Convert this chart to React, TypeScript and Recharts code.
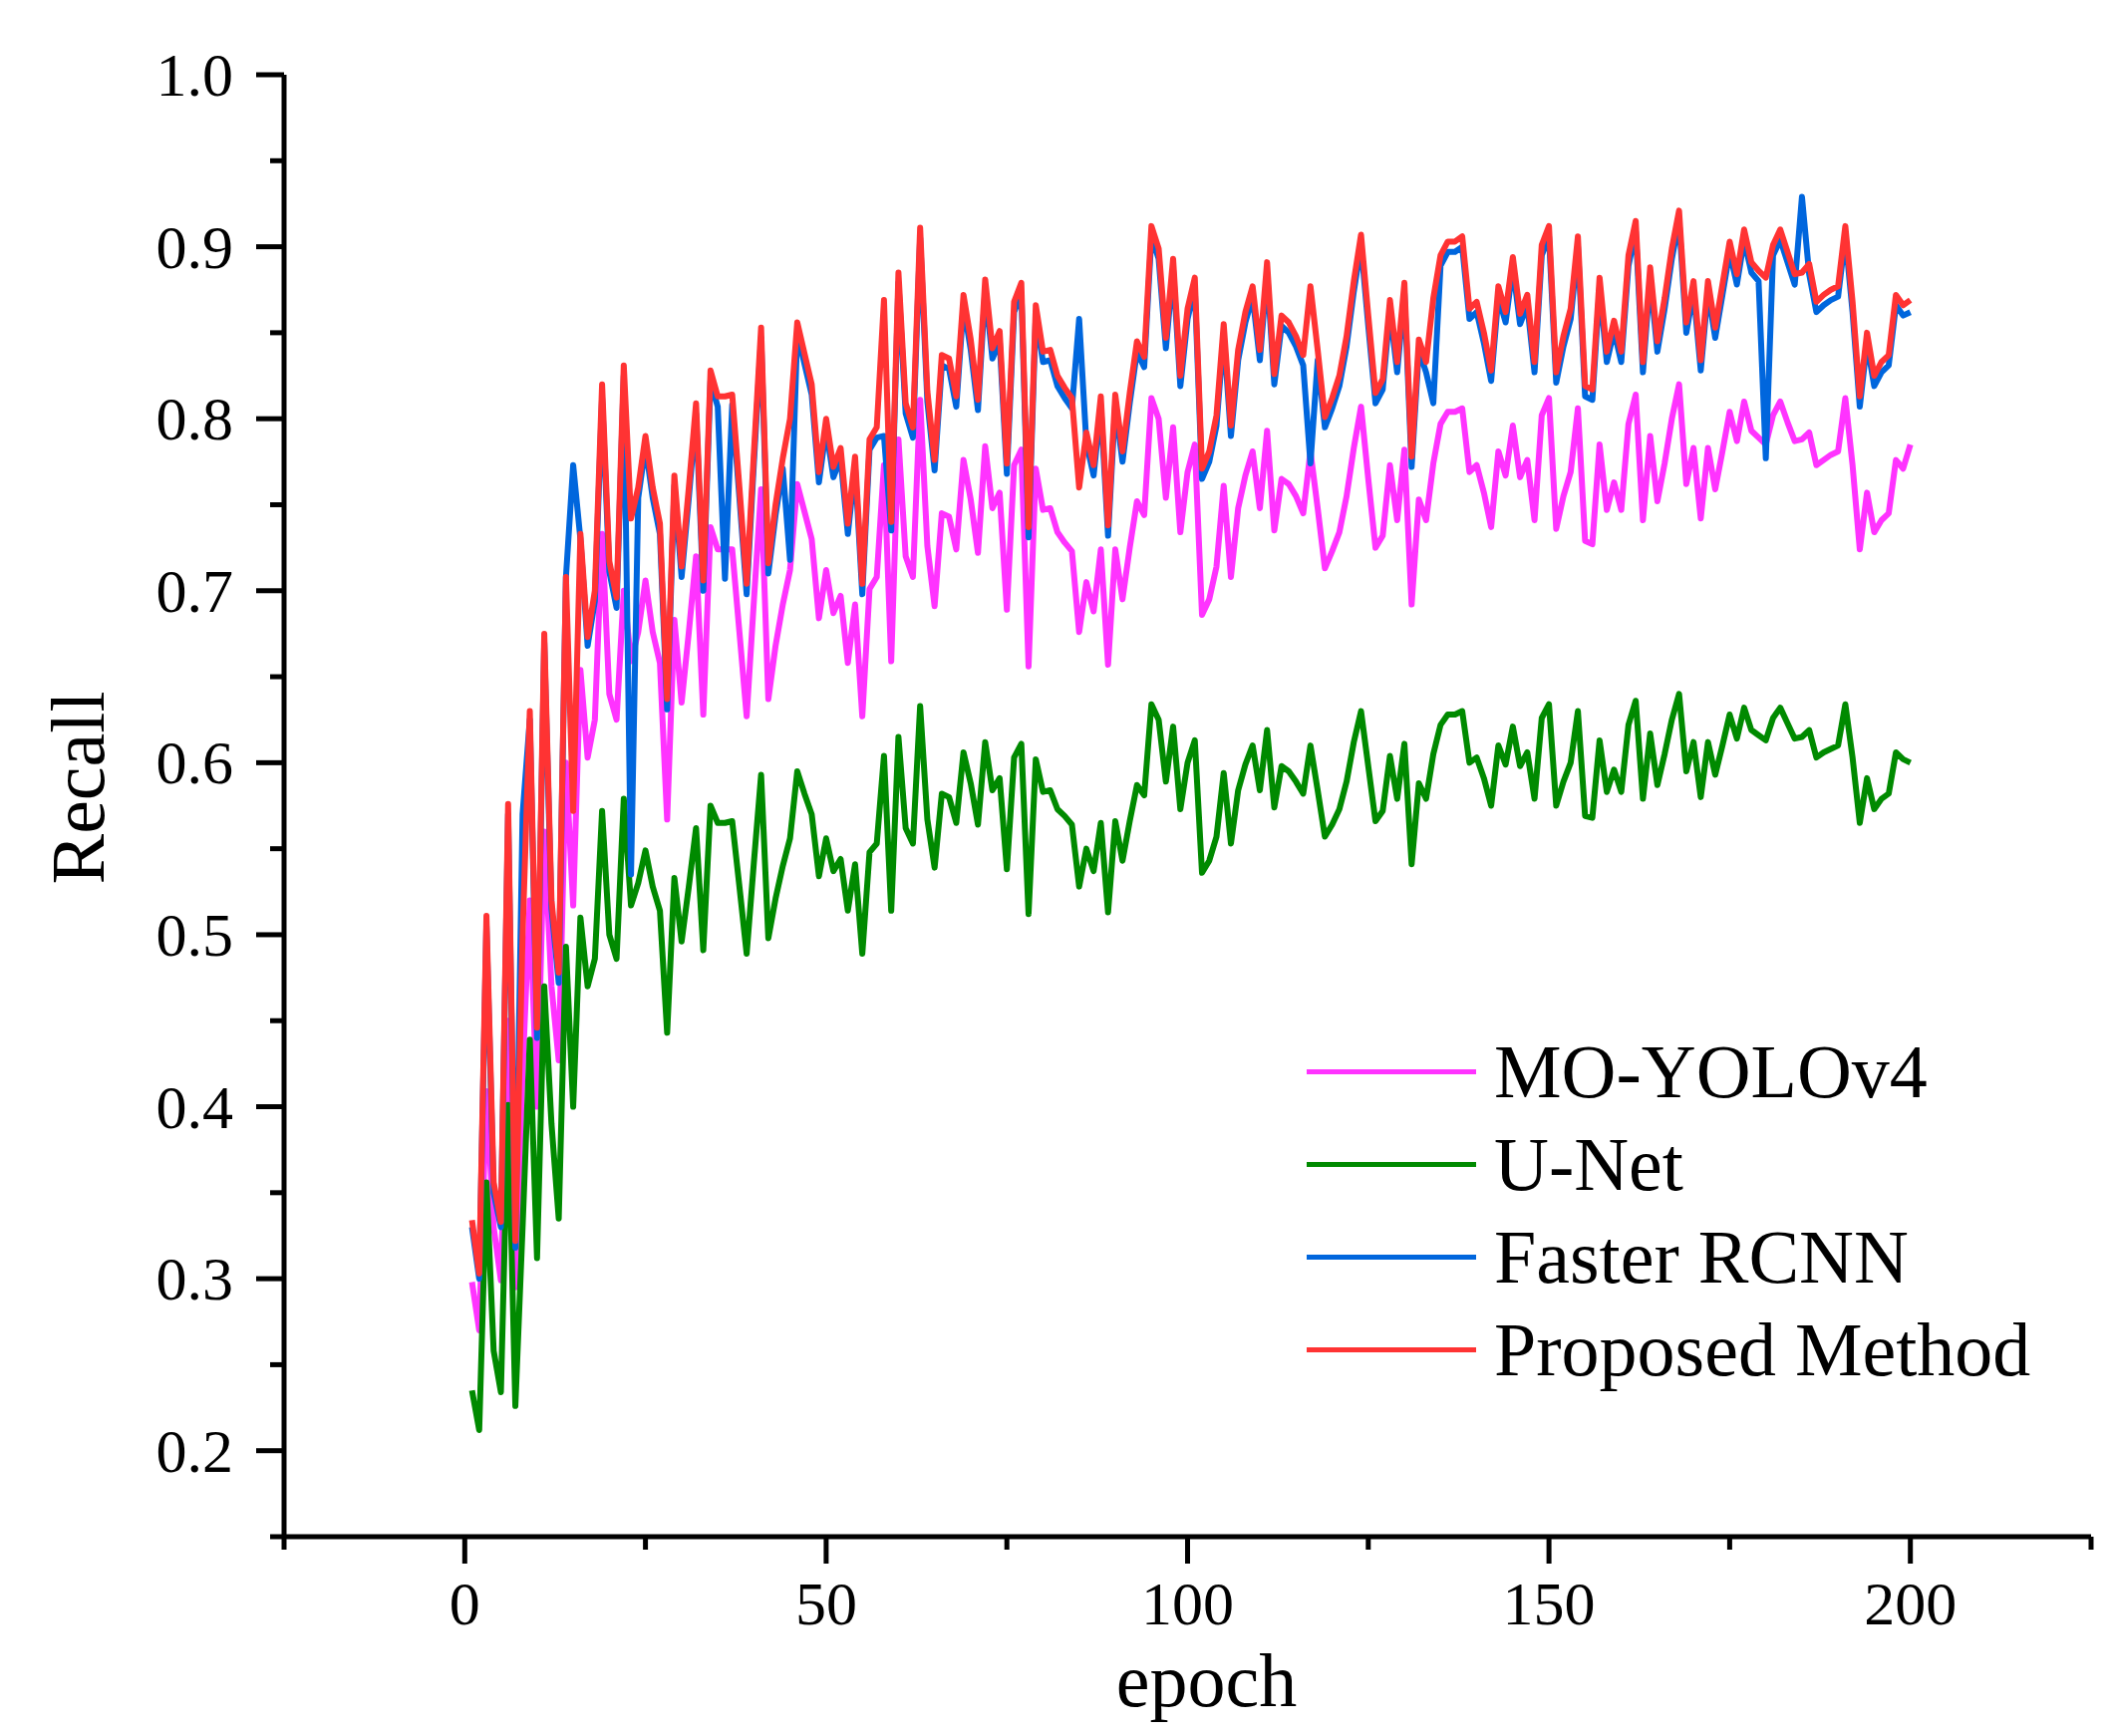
import React from 'react';
import { LineChart, Line, XAxis, YAxis, Label } from 'recharts';

const EPOCHS = Array.from({ length: 200 }, (_, i) => i + 1);

const PROPOSED = [
  0.334, 0.303, 0.511, 0.356, 0.333, 0.576, 0.322, 0.500, 0.630, 0.446,
  0.675, 0.520, 0.478, 0.708, 0.572, 0.733, 0.673, 0.700, 0.820, 0.717,
  0.696, 0.831, 0.742, 0.760, 0.790, 0.760, 0.739, 0.637, 0.767, 0.714,
  0.760, 0.809, 0.706, 0.828, 0.813, 0.813, 0.814, 0.760, 0.704, 0.780,
  0.853, 0.716, 0.750, 0.777, 0.800, 0.856, 0.838, 0.820, 0.769, 0.800,
  0.772, 0.783, 0.739, 0.778, 0.704, 0.788, 0.795, 0.869, 0.740, 0.885,
  0.809, 0.795, 0.911, 0.816, 0.776, 0.837, 0.835, 0.813, 0.872, 0.846,
  0.811, 0.881, 0.841, 0.851, 0.774, 0.868, 0.879, 0.737, 0.866, 0.839,
  0.840, 0.825, 0.818, 0.812, 0.760, 0.792, 0.773, 0.813, 0.738, 0.814,
  0.781, 0.815, 0.845, 0.836, 0.912, 0.899, 0.847, 0.893, 0.825, 0.864,
  0.882, 0.771, 0.781, 0.802, 0.855, 0.796, 0.840, 0.862, 0.877, 0.840,
  0.891, 0.826, 0.860, 0.856, 0.848, 0.837, 0.877, 0.840, 0.801, 0.812,
  0.825, 0.848, 0.880, 0.907, 0.860, 0.815, 0.823, 0.869, 0.833, 0.879,
  0.778, 0.846, 0.833, 0.870, 0.895, 0.903, 0.903, 0.906, 0.864, 0.868,
  0.850, 0.828, 0.877, 0.862, 0.894, 0.861, 0.872, 0.833, 0.901, 0.912,
  0.827, 0.848, 0.864, 0.906, 0.819, 0.817, 0.882, 0.839, 0.857, 0.839,
  0.895, 0.915, 0.833, 0.888, 0.845, 0.870, 0.899, 0.921, 0.856, 0.880,
  0.834, 0.880, 0.853, 0.878, 0.903, 0.884, 0.910, 0.891, 0.886, 0.882,
  0.901, 0.910, 0.897, 0.884, 0.885, 0.890, 0.868, 0.872, 0.875, 0.877,
  0.912, 0.868, 0.813, 0.850, 0.825, 0.833, 0.837, 0.872, 0.866, 0.869,
];

const FASTER_RCNN = [
  0.330, 0.300, 0.505, 0.350, 0.330, 0.570, 0.318, 0.570, 0.625, 0.440,
  0.670, 0.515, 0.472, 0.708, 0.773, 0.730, 0.668, 0.694, 0.812, 0.711,
  0.690, 0.825, 0.535, 0.754, 0.784, 0.754, 0.733, 0.631, 0.761, 0.708,
  0.754, 0.803, 0.700, 0.822, 0.807, 0.707, 0.808, 0.754, 0.698, 0.774,
  0.847, 0.710, 0.744, 0.771, 0.718, 0.850, 0.832, 0.814, 0.763, 0.794,
  0.766, 0.777, 0.733, 0.772, 0.698, 0.782, 0.789, 0.790, 0.735, 0.879,
  0.803, 0.789, 0.905, 0.810, 0.770, 0.831, 0.829, 0.807, 0.866, 0.840,
  0.805, 0.875, 0.835, 0.845, 0.768, 0.862, 0.873, 0.731, 0.860, 0.833,
  0.834, 0.819, 0.812, 0.806, 0.858, 0.786, 0.767, 0.807, 0.732, 0.808,
  0.775, 0.809, 0.839, 0.830, 0.906, 0.893, 0.841, 0.887, 0.819, 0.858,
  0.876, 0.765, 0.775, 0.796, 0.849, 0.790, 0.834, 0.856, 0.871, 0.834,
  0.885, 0.820, 0.854, 0.850, 0.842, 0.831, 0.774, 0.834, 0.795, 0.806,
  0.819, 0.842, 0.874, 0.901, 0.854, 0.809, 0.817, 0.863, 0.827, 0.873,
  0.772, 0.840, 0.827, 0.809, 0.889, 0.897, 0.897, 0.900, 0.858, 0.862,
  0.844, 0.822, 0.871, 0.856, 0.888, 0.855, 0.866, 0.827, 0.895, 0.906,
  0.821, 0.842, 0.858, 0.900, 0.813, 0.811, 0.876, 0.833, 0.851, 0.833,
  0.889, 0.909, 0.827, 0.882, 0.839, 0.864, 0.893, 0.915, 0.850, 0.874,
  0.828, 0.874, 0.847, 0.872, 0.897, 0.878, 0.904, 0.885, 0.880, 0.777,
  0.895, 0.904, 0.891, 0.878, 0.929, 0.884, 0.862, 0.866, 0.869, 0.871,
  0.906, 0.862, 0.807, 0.844, 0.819, 0.827, 0.831, 0.866, 0.860, 0.862,
];

const MO_YOLOV4 = [
  0.298, 0.270, 0.409, 0.330, 0.299, 0.450, 0.295, 0.420, 0.520, 0.400,
  0.560, 0.470, 0.427, 0.600, 0.517, 0.654, 0.603, 0.625, 0.733, 0.640,
  0.625, 0.700, 0.659, 0.676, 0.706, 0.676, 0.658, 0.567, 0.683, 0.635,
  0.676, 0.720, 0.628, 0.737, 0.724, 0.724, 0.724, 0.676, 0.627, 0.694,
  0.759, 0.637, 0.668, 0.692, 0.712, 0.762, 0.746, 0.730, 0.684, 0.712,
  0.687, 0.697, 0.658, 0.692, 0.627, 0.701, 0.708, 0.773, 0.659, 0.788,
  0.720, 0.708, 0.811, 0.726, 0.691, 0.745, 0.743, 0.724, 0.776, 0.753,
  0.722, 0.784, 0.748, 0.757, 0.689, 0.773, 0.782, 0.656, 0.771, 0.747,
  0.748, 0.734, 0.728, 0.723, 0.676, 0.705, 0.688, 0.724, 0.657, 0.724,
  0.695, 0.725, 0.752, 0.744, 0.812, 0.800, 0.754, 0.795, 0.734, 0.769,
  0.785, 0.686, 0.695, 0.714, 0.761, 0.708, 0.748, 0.767, 0.781, 0.748,
  0.793, 0.735, 0.765, 0.762, 0.755, 0.745, 0.781, 0.748, 0.713, 0.723,
  0.734, 0.755, 0.783, 0.807, 0.765, 0.725, 0.732, 0.773, 0.741, 0.782,
  0.692, 0.753, 0.741, 0.774, 0.797, 0.804, 0.804, 0.806, 0.769, 0.773,
  0.757, 0.737, 0.781, 0.767, 0.796, 0.766, 0.776, 0.741, 0.802, 0.812,
  0.736, 0.755, 0.769, 0.806, 0.729, 0.727, 0.785, 0.747, 0.763, 0.747,
  0.797, 0.814, 0.741, 0.790, 0.752, 0.774, 0.800, 0.820, 0.762, 0.783,
  0.742, 0.783, 0.759, 0.781, 0.804, 0.787, 0.810, 0.793, 0.789, 0.785,
  0.802, 0.810, 0.798, 0.787, 0.788, 0.792, 0.773, 0.776, 0.779, 0.781,
  0.812, 0.773, 0.724, 0.757, 0.734, 0.741, 0.745, 0.776, 0.771, 0.785,
];

const UNET = [
  0.235, 0.212, 0.356, 0.258, 0.234, 0.401, 0.226, 0.330, 0.439, 0.312,
  0.470, 0.390, 0.335, 0.493, 0.400, 0.510, 0.470, 0.486, 0.572, 0.500,
  0.486, 0.579, 0.517, 0.530, 0.549, 0.528, 0.514, 0.443, 0.533, 0.496,
  0.528, 0.562, 0.491, 0.575, 0.565, 0.565, 0.566, 0.528, 0.489, 0.542,
  0.593, 0.498, 0.521, 0.540, 0.556, 0.595, 0.582, 0.570, 0.534, 0.556,
  0.537, 0.544, 0.514, 0.541, 0.489, 0.548, 0.553, 0.604, 0.514, 0.615,
  0.562, 0.553, 0.633, 0.567, 0.539, 0.582, 0.580, 0.565, 0.606, 0.588,
  0.564, 0.612, 0.584, 0.591, 0.538, 0.603, 0.611, 0.512, 0.602, 0.583,
  0.584, 0.573, 0.569, 0.564, 0.528, 0.550, 0.537, 0.565, 0.513, 0.566,
  0.543, 0.566, 0.587, 0.581, 0.634, 0.625, 0.589, 0.621, 0.573, 0.600,
  0.613, 0.536, 0.543, 0.557, 0.594, 0.553, 0.584, 0.599, 0.610, 0.584,
  0.619, 0.574, 0.598, 0.595, 0.589, 0.582, 0.610, 0.584, 0.557, 0.564,
  0.573, 0.589, 0.612, 0.630, 0.598, 0.566, 0.572, 0.604, 0.579, 0.611,
  0.541, 0.588, 0.579, 0.605, 0.622, 0.628, 0.628, 0.630, 0.600, 0.603,
  0.591, 0.575, 0.610, 0.599, 0.621, 0.598, 0.606, 0.579, 0.626, 0.634,
  0.575, 0.589, 0.600, 0.630, 0.569, 0.568, 0.613, 0.583, 0.596, 0.583,
  0.622, 0.636, 0.579, 0.617, 0.587, 0.605, 0.625, 0.640, 0.595, 0.612,
  0.580, 0.612, 0.593, 0.610, 0.628, 0.614, 0.632, 0.619, 0.616, 0.613,
  0.626, 0.632, 0.623, 0.614, 0.615, 0.619, 0.603, 0.606, 0.608, 0.610,
  0.634, 0.603, 0.565, 0.591, 0.573, 0.579, 0.582, 0.606, 0.602, 0.600,
];

const X_TICKS = [-25, 0, 25, 50, 75, 100, 125, 150, 175, 200, 225];
const Y_TICKS = [0.15, 0.2, 0.25, 0.3, 0.35, 0.4, 0.45, 0.5, 0.55, 0.6, 0.65, 0.7, 0.75, 0.8, 0.85, 0.9, 0.95, 1.0];

const SERIES = [
  { key: 'mo', name: 'MO-YOLOv4', color: '#ff33ff' },
  { key: 'unet', name: 'U-Net', color: '#008a00' },
  { key: 'faster', name: 'Faster RCNN', color: '#0066dd' },
  { key: 'proposed', name: 'Proposed Method', color: '#ff3333' },
];

const rows = EPOCHS.map((epoch, i) => ({
  epoch,
  mo: MO_YOLOV4[i],
  unet: UNET[i],
  faster: FASTER_RCNN[i],
  proposed: PROPOSED[i],
}));

const FONT = '"Liberation Serif", "Times New Roman", serif';

const YTick = (props: any) => {
  const { x, y, payload } = props;
  const v = payload.value;
  const major = Math.abs(v * 10 - Math.round(v * 10)) < 1e-6;
  return (
    <g>
      <line x1={x} x2={x - (major ? 28 : 14)} y1={y} y2={y} stroke="#000" strokeWidth={5} />
      {major && (
        <text x={x - 51} y={y} textAnchor="end" dominantBaseline="central" fontSize={62} fontFamily={FONT} fill="#000">
          {v.toFixed(1)}
        </text>
      )}
    </g>
  );
};

const XTick = (props: any) => {
  const { x, y, payload } = props;
  const v = payload.value;
  const major = v % 50 === 0;
  return (
    <g>
      <line x1={x} x2={x} y1={y} y2={y + (major ? 27 : 13)} stroke="#000" strokeWidth={5} />
      {major && (
        <text x={x} y={y + 88} textAnchor="middle" fontSize={62} fontFamily={FONT} fill="#000">
          {v}
        </text>
      )}
    </g>
  );
};

// legend drawn as an overlay so it does not shrink the plot area
const LegendBox = () => (
  <div style={{ position: 'absolute', left: 1303, top: 1021, fontFamily: FONT, fontSize: 76, color: '#000' }}>
    {SERIES.map((s) => (
      <div key={s.key} style={{ display: 'flex', alignItems: 'center', height: 93, lineHeight: '93px' }}>
        <div style={{ width: 170, height: 5, background: s.color, marginRight: 18 }} />
        <span style={{ whiteSpace: 'nowrap' }}>{s.name}</span>
      </div>
    ))}
  </div>
);

export default function App() {
  return (
    <div style={{ position: 'relative', width: 2104, height: 1726, background: '#fff' }}>
      <LineChart width={2104} height={1726} data={rows} margin={{ top: 67, right: 14, left: 0, bottom: 0 }}>
        <XAxis
          type="number"
          dataKey="epoch"
          domain={[-25, 225]}
          ticks={X_TICKS}
          interval={0}
          height={192}
          tickSize={0}
          tickMargin={0}
          tickLine={false}
          axisLine={{ stroke: '#000', strokeWidth: 5 }}
          tick={<XTick />}
          allowDataOverflow
        >
          <Label
            content={(p: any) => {
              const vb = p.viewBox;
              return (
                <text x={vb.x + vb.width / 2 + 19} y={vb.y + 170} textAnchor="middle" fontSize={76} fontFamily={FONT} fill="#000">
                  epoch
                </text>
              );
            }}
          />
        </XAxis>
        <YAxis
          type="number"
          domain={[0.15, 1.0]}
          ticks={Y_TICKS}
          interval={0}
          width={277}
          tickSize={0}
          tickMargin={0}
          tickLine={false}
          axisLine={{ stroke: '#000', strokeWidth: 5 }}
          tick={<YTick />}
          allowDataOverflow
        >
          <Label
            content={(p: any) => {
              const vb = p.viewBox;
              const cx = 70;
              const cy = vb.y + vb.height / 2 - 18;
              return (
                <text x={cx} y={cy} transform={`rotate(-90 ${cx} ${cy})`} textAnchor="middle" dominantBaseline="central" fontSize={76} fontFamily={FONT} fill="#000">
                  Recall
                </text>
              );
            }}
          />
        </YAxis>
        {SERIES.map((s) => (
          <Line
            key={s.key}
            type="linear"
            dataKey={s.key}
            name={s.name}
            stroke={s.color}
            strokeWidth={6}
            strokeLinejoin="round"
            dot={false}
            activeDot={false}
            isAnimationActive={false}
          />
        ))}
      </LineChart>
      <LegendBox />
    </div>
  );
}
